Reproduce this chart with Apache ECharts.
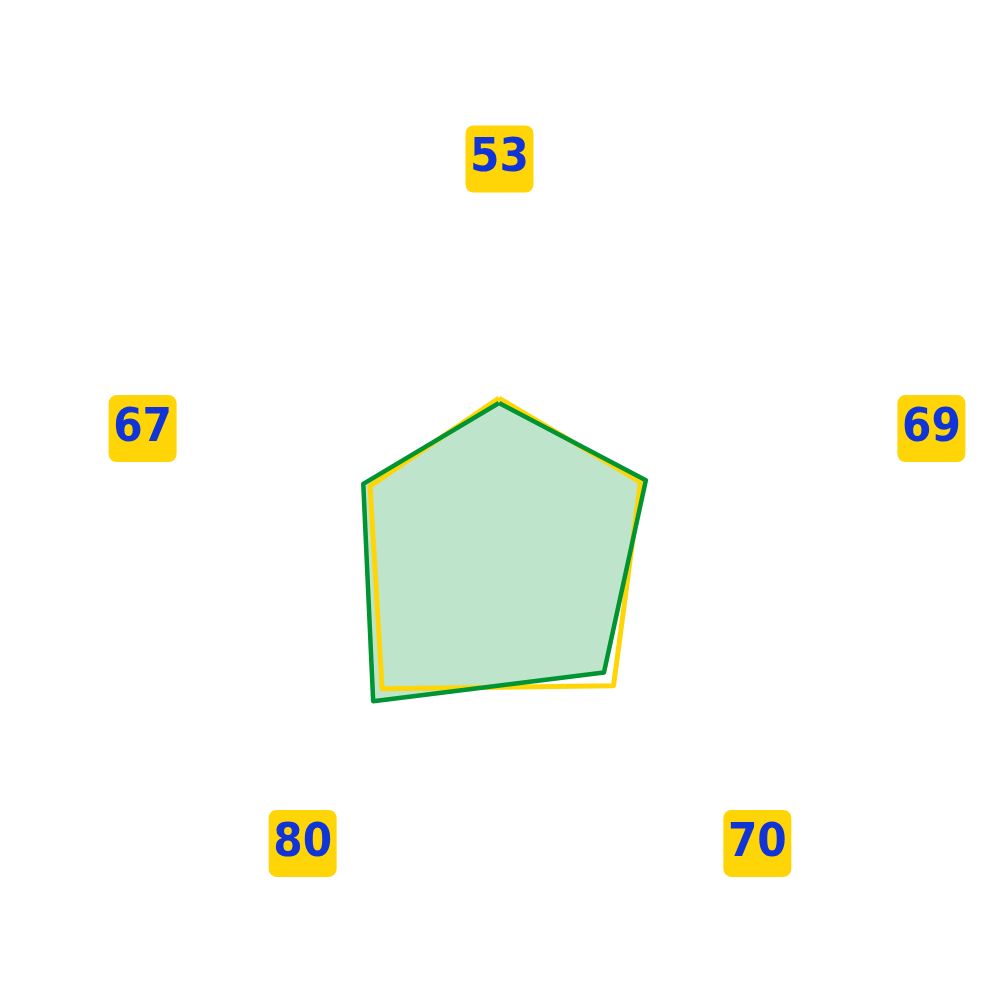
<!DOCTYPE html>
<html>
<head>
<meta charset="utf-8">
<script src="https://cdn.jsdelivr.net/npm/echarts@6/dist/echarts.min.js"></script>
<style>html,body{margin:0;padding:0;background:#fff}#c{width:1000px;height:1000px}</style>
</head>
<body>
<div id="c"></div>
<script>
// indicator order: top, then counter-clockwise (left, bottom-left, bottom-right, right)
const indicatorNames = ['53', '67', '80', '70', '69'];
const indicatorMax = [100, 100, 100, 100, 100];
const yellowValues = [36.6, 38.2, 56.0, 54.9, 41.9];
const greenValues = [35.2, 40.2, 60.3, 50.3, 43.5];

// label nudges (layout only, pixels)
const nameShiftX = [0, 5, 27, 35, 71];
const nameShiftY = [11, 18, 8, 8, 18];

const rich = {
  b: {
    color: '#1034D6',
    fontFamily: "'DejaVu Sans Condensed', 'Liberation Sans', sans-serif",
    fontWeight: 'bold',
    fontSize: 47,
    lineHeight: 48,
    width: 60,
    align: 'center',
    backgroundColor: '#FFD507',
    borderRadius: 8,
    padding: [10, 4]
  }
};
nameShiftX.forEach((sx, i) => {
  rich['h' + i] = { width: Math.max(1, Math.abs(sx) * 2), fontSize: 1, lineHeight: 1 };
  rich['v' + i] = { height: Math.max(1, Math.abs(nameShiftY[i]) * 2), lineHeight: Math.max(1, Math.abs(nameShiftY[i]) * 2), fontSize: 1, width: 1 };
});

function nameFormatter(name) {
  const i = indicatorNames.indexOf(name);
  const sx = nameShiftX[i], sy = nameShiftY[i];
  let line = sx >= 0 ? '{h' + i + '| }{b|' + name + '}' : '{b|' + name + '}{h' + i + '| }';
  if (sy > 0) line = '{v' + i + '| }\n' + line;
  else if (sy < 0) line = line + '\n{v' + i + '| }';
  return line;
}

const chart = echarts.init(document.getElementById('c'));
const option = {
  animation: false,
  radar: {
    center: [499, 528],
    radius: 355,
    nameGap: 25,
    startAngle: 90,
    shape: 'polygon',
    indicator: indicatorNames.map((n, i) => ({ name: n, max: indicatorMax[i] })),
    axisName: {
      align: 'center',
      verticalAlign: 'middle',
      formatter: nameFormatter,
      rich: rich
    },
    splitLine: { show: false },
    splitArea: { show: false },
    axisLine: { show: false },
    axisTick: { show: false },
    axisLabel: { show: false }
  },
  series: [
    {
      type: 'radar', z: 1, symbol: 'none',
      lineStyle: { width: 0, opacity: 0 },
      areaStyle: { color: '#009432', opacity: 0.25 },
      data: [{ value: greenValues }]
    },
    {
      type: 'radar', z: 2, symbol: 'none',
      lineStyle: { width: 5, color: '#FFD507' },
      data: [{ value: yellowValues }]
    },
    {
      type: 'radar', z: 3, symbol: 'none',
      lineStyle: { width: 4.5, color: '#009432' },
      data: [{ value: greenValues }]
    }
  ]
};
chart.setOption(option);
</script>
</body>
</html>
